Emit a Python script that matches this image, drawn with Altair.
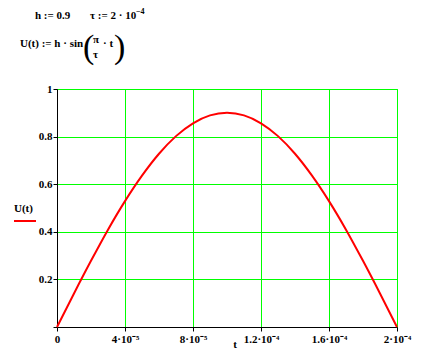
import altair as alt
import pandas as pd

# data (t in seconds)
t_vals = [0, 1e-5, 2e-5, 3e-5, 4e-5, 5e-5, 6e-5, 7e-5, 8e-5, 9e-5, 1e-4,
          1.1e-4, 1.2e-4, 1.3e-4, 1.4e-4, 1.5e-4, 1.6e-4, 1.7e-4, 1.8e-4, 1.9e-4, 2e-4]
u_vals = [0, 0.141, 0.278, 0.409, 0.529, 0.636, 0.728, 0.802, 0.856, 0.889, 0.900,
          0.889, 0.856, 0.802, 0.728, 0.636, 0.529, 0.409, 0.278, 0.141, 0]
x_ticks = [0, 4e-5, 8e-5, 1.2e-4, 1.6e-4, 2e-4]
y_ticks = [0, 0.2, 0.4, 0.6, 0.8, 1.0]

df = pd.DataFrame({"t": t_vals, "U": u_vals})
one = alt.Data(values=[{"k": 1}])

FONT = "Liberation Serif"
GREEN = "#00ff00"

x_label_expr = ("round(datum.value*1e5) == 0 ? '0' : round(datum.value*1e5) == 4 ? '4·10⁻⁵' : "
                "round(datum.value*1e5) == 8 ? '8·10⁻⁵' : round(datum.value*1e5) == 12 ? '1.2·10⁻⁴' : "
                "round(datum.value*1e5) == 16 ? '1.6·10⁻⁴' : '2·10⁻⁴'")

line = alt.Chart(df).mark_line(color="#ff0000", strokeWidth=2, interpolate="monotone").encode(
    x=alt.X("t:Q", scale=alt.Scale(domain=[0, 2e-4], nice=False, zero=False),
            axis=alt.Axis(values=x_ticks, grid=True, gridColor=GREEN, gridWidth=1, gridOpacity=1,
                          domainColor="black", tickColor="black", tickSize=4,
                          labelFont=FONT, labelFontWeight="bold", labelFontSize=11,
                          labelColor="black", labelPadding=2, labelExpr=x_label_expr,
                          labelFlush=False, title=None)),
    y=alt.Y("U:Q", scale=alt.Scale(domain=[0, 1], nice=False),
            axis=alt.Axis(values=y_ticks, grid=True, gridColor=GREEN, gridWidth=1, gridOpacity=1,
                          domainColor="black", tickColor="black", tickSize=4,
                          labelFont=FONT, labelFontWeight="bold", labelFontSize=11,
                          labelColor="black", labelPadding=1,
                          labelExpr="datum.value == 0 ? '' : toString(round(datum.value*10)/10)",
                          labelFlush=False, title=None)),
)

def txt(s, x, y, size=11, weight="bold", align="left", baseline="alphabetic"):
    return alt.Chart(one).mark_text(font=FONT, fontSize=size, fontWeight=weight, align=align,
                                    baseline=baseline, color="black").encode(
        x=alt.value(x), y=alt.value(y), text=alt.value(s))

layers = [
    line,
    # formula line 1
    txt("h := 0.9", -22, -70),
    txt("τ := 2 · 10", 33, -70),
    txt("−4", 79, -75, size=8),
    # formula line 2
    txt("U(t) := h · sin", -37, -42),
    txt("(", 26, -41, size=34, weight="normal", baseline="middle"),
    txt("π", 36, -49, size=11, align="left", baseline="middle"),
    txt("τ", 36, -34, size=11, align="left", baseline="middle"),
    txt("· t", 46, -42),
    txt(")", 57, -41, size=34, weight="normal", baseline="middle"),
    # y title with legend line
    txt("U(t)", -43, 120, size=11, baseline="middle"),
    alt.Chart(one).mark_rule(color="#ff0000", strokeWidth=2).encode(
        x=alt.value(-43), x2=alt.value(-21), y=alt.value(132)),
    # x title
    txt("t", 178, 259, size=11, align="center", baseline="alphabetic"),
]

chart = alt.layer(*layers).properties(
    width=340, height=238,
    autosize=alt.AutoSizeParams(type="none"),
    padding={"left": 49, "top": 81, "right": 23, "bottom": 22},
    background="white",
).configure_view(stroke=GREEN, strokeWidth=1)

chart.save("out.html", embed_options={"renderer": "svg", "actions": False})
